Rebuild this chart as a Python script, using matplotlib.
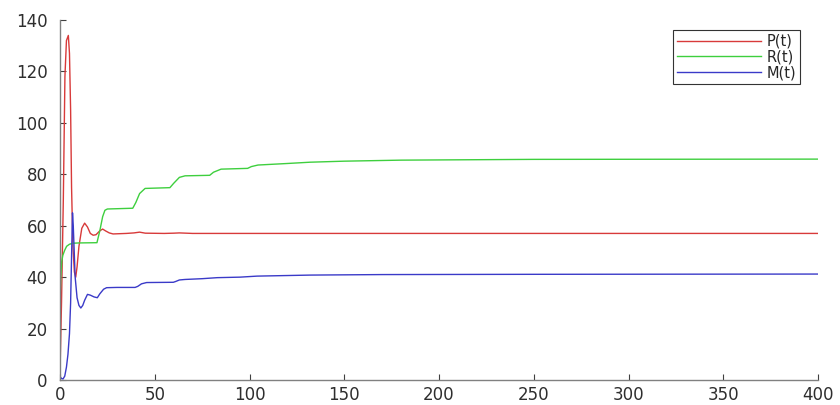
import matplotlib
matplotlib.use("Agg")
import matplotlib.pyplot as plt

plt.rcParams['font.family'] = ['DejaVu Sans']

# P(t)
t_P = [0, 0.8, 1.75, 2.6, 3.4, 4.4, 5.0, 5.6, 6.1, 6.8, 7.6, 8.3, 9, 10, 11.5, 13,
       14.5, 16, 17.5, 19, 21, 22.5, 24, 26, 28, 35, 39, 42, 45, 55, 60, 63, 70,
       100, 150, 200, 300, 400]
P = [3, 30, 70, 118, 132, 134, 127, 105, 75, 52, 42, 40, 44, 52, 59, 61,
     59.5, 57, 56.3, 56.5, 58, 58.7, 58, 57.2, 56.8, 57, 57.2, 57.5, 57.1, 57, 57.1, 57.2, 57,
     57, 57, 57, 57, 57]

# R(t)
t_R = [0, 0.4, 0.9, 1.5, 2.5, 3.5, 5, 7, 10, 19.5, 21, 22.5, 23.7, 25, 38.4, 40, 42,
       44.9, 58, 60, 63, 66, 79, 81, 85, 99, 101, 104.5, 120, 132, 150, 180, 250, 400]
R = [30, 40, 46, 48.5, 50.5, 52, 52.8, 53.2, 53.3, 53.4, 58, 63.5, 66, 66.5, 66.8, 69, 72.5,
     74.5, 74.8, 76.5, 78.8, 79.4, 79.6, 80.8, 82, 82.3, 83, 83.6, 84.2, 84.7, 85.1, 85.5, 85.8, 85.9]

# M(t)
t_M = [0, 0.8, 1.6, 2.5, 3.4, 4.2, 5, 5.6, 6.1, 6.6, 7.0, 7.5, 8, 9, 10, 11, 12, 13,
       14.5, 16, 18, 19.7, 21, 23, 24.6, 30, 39.6, 41, 43, 45.7, 59.8, 61, 63, 66, 75, 83,
       95, 104, 132, 170, 250, 400]
M = [1.3, 0.6, 0.4, 1.5, 5, 10, 18, 30, 48, 65, 60, 50, 40, 32, 29, 28, 29, 31,
     33.3, 33, 32.3, 32, 33.5, 35.3, 35.9, 36, 36, 36.4, 37.4, 37.9, 38, 38.3, 38.9, 39.1, 39.4, 39.8,
     40, 40.4, 40.8, 41, 41.1, 41.2]

fig = plt.figure(figsize=(8.4, 4.05), dpi=100)
ax = fig.add_axes([60/840, 25/405, 758/840, 360/405])

ax.plot(t_P, P, color='#d83a3a', lw=1.0, label='P(t)')
ax.plot(t_R, R, color='#3ecf3e', lw=1.0, label='R(t)')
ax.plot(t_M, M, color='#3a3ac8', lw=1.0, label='M(t)')

ax.set_xlim(0, 400)
ax.set_ylim(0, 140)
ax.set_xticks(range(0, 401, 50))
ax.set_yticks(range(0, 141, 20))

for side in ['top', 'right']:
    ax.spines[side].set_visible(False)
for side in ['left', 'bottom']:
    ax.spines[side].set_color('#808080')
    ax.spines[side].set_linewidth(1.0)
ax.tick_params(direction='in', length=4, width=0.8, color='#404040',
               labelsize=12, labelcolor='#2e2e2e')
ax.tick_params(axis='x', pad=4)
ax.tick_params(axis='y', pad=9)

leg = ax.legend(loc='upper right', bbox_to_anchor=(0.976, 0.972), fontsize=10.5,
                handlelength=5.8, handletextpad=0.35, borderpad=0.25,
                labelspacing=0.05, fancybox=False, framealpha=1, borderaxespad=0)
leg.get_frame().set_edgecolor('#333333')
leg.get_frame().set_linewidth(0.8)
for txt in leg.get_texts():
    txt.set_color('#262626')

fig.savefig('out.png', dpi=100)
